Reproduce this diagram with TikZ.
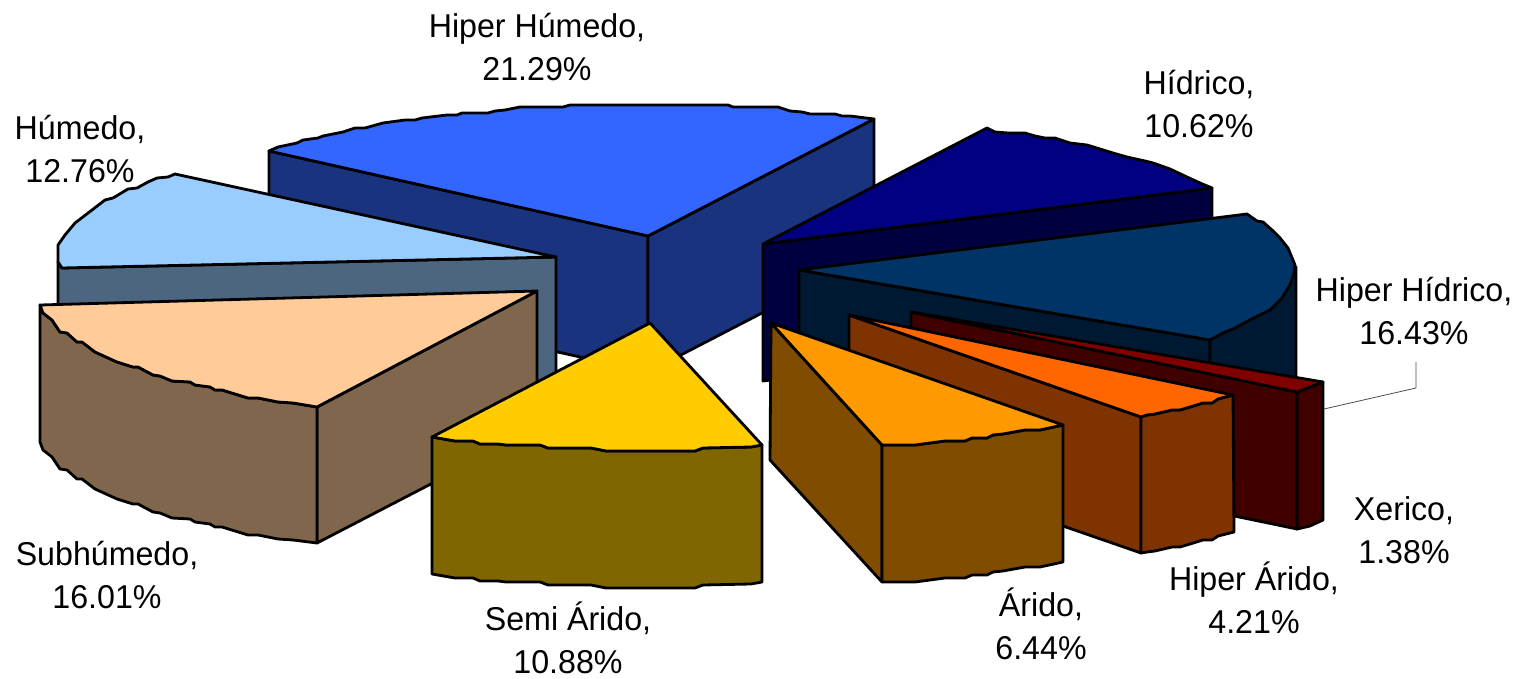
\documentclass[tikz,border=0pt]{standalone}
\usepackage{fontspec}
\setmainfont[FakeStretch=0.975]{Liberation Sans}
\definecolor{hhT}{HTML}{3366FF}\definecolor{hhW}{HTML}{19337F}
\definecolor{hiT}{HTML}{000080}\definecolor{hiW}{HTML}{000040}
\definecolor{hdT}{HTML}{003366}\definecolor{hdW}{HTML}{001933}
\definecolor{xeT}{HTML}{800000}\definecolor{xeW}{HTML}{400000}
\definecolor{haT}{HTML}{FF6600}\definecolor{haW}{HTML}{7F3300}
\definecolor{arT}{HTML}{FF9900}\definecolor{arW}{HTML}{7F4C00}
\definecolor{saT}{HTML}{FFCC00}\definecolor{saW}{HTML}{7F6600}
\definecolor{suT}{HTML}{FFCC99}\definecolor{suW}{HTML}{7F664C}
\definecolor{huT}{HTML}{99CCFF}\definecolor{huW}{HTML}{4C667F}
\tikzset{
  face/.style={draw=black,line width=1.4pt,line join=round},
  lab/.style={align=center,inner sep=0pt,font=\fontsize{16.5pt}{21.6pt}\selectfont,text=black},
  leader/.style={draw=black!70,line width=0.4pt}
}
\begin{document}
\begin{tikzpicture}[x=0.5pt,y=-0.5pt]
\useasboundingbox (0,0) rectangle (1524,679);
% Hiper Humedo
\path[face,fill=hhW] (269,151) -- (648,236) -- (648,372) -- (269,288) -- cycle;
\path[face,fill=hhW] (648,236) -- (874,119) -- (874,255) -- (648,372) -- cycle;
\path[face,fill=hhT] (648,236) -- (269,151) -- (278,147) -- (297,143) -- (303,140) -- (318,138) -- (323,136) -- (343,132) -- (355,128) -- (365,128) -- (383,123) -- (405,120) -- (415,120) -- (422,118) -- (447,115) -- (457,115) -- (462,113) -- (488,113) -- (495,111) -- (505,110) -- (520,107) -- (563,107) -- (570,105) -- (728,105) -- (733,107) -- (778,107) -- (790,111) -- (802,112) -- (810,114) -- (835,114) -- (842,116) -- (850,116) -- (874,119) -- cycle;
% Hidrico
\path[face,fill=hiW] (763,244) -- (1212,188) -- (1212,325) -- (763,381) -- cycle;
\path[face,fill=hiT] (763,244) -- (987,128) -- (995,132) -- (1008,133) -- (1025,133) -- (1035,136) -- (1045,138) -- (1055,138) -- (1070,143) -- (1087,145) -- (1100,149) -- (1113,153) -- (1127,157) -- (1145,161) -- (1153,163) -- (1170,169) -- (1187,177) -- (1200,183) -- (1212,188) -- cycle;
% Hiper Hidrico
\path[face,fill=hdW] (799,270) -- (1210,340) -- (1210,477) -- (799,407) -- cycle;
\path[face,fill=hdW] (1210,340) -- (1296,267) -- (1296,404) -- (1210,477) -- cycle;
\path[face,fill=hdT] (799,270) -- (1247,214) -- (1257,221) -- (1263,222) -- (1272,230) -- (1280,238) -- (1288,248) -- (1295,265) -- (1294,273) -- (1290,285) -- (1282,298) -- (1270,310) -- (1250,320) -- (1233,329) -- (1225,332) -- (1210,340) -- cycle;
% Xerico
\path[face,fill=xeW] (911,312) -- (1297,392) -- (1297,529) -- (911,449) -- cycle;
\path[face,fill=xeW] (1297,392) -- (1323,382) -- (1323,520) -- (1310,526) -- (1297,529) -- cycle;
\path[face,fill=xeT] (911,312) -- (1323,382) -- (1297,392) -- cycle;
% Hiper Arido
\path[face,fill=haW] (849,315) -- (1141,417) -- (1141,553) -- (849,452) -- cycle;
\path[face,fill=haW] (1141,417) -- (1147,415) -- (1155,414) -- (1172,410) -- (1180,410) -- (1190,407) -- (1203,403) -- (1212,403) -- (1218,399) -- (1233,395) -- (1234,532) -- (1218,536) -- (1212,540) -- (1203,540) -- (1190,544) -- (1180,547) -- (1172,547) -- (1155,551) -- (1147,552) -- (1141,553) -- cycle;
\path[face,fill=haT] (849,315) -- (1233,395) -- (1218,399) -- (1212,403) -- (1203,403) -- (1190,407) -- (1180,410) -- (1172,410) -- (1155,414) -- (1147,415) -- (1141,417) -- cycle;
% Arido
\path[face,fill=arW] (771,323) -- (882,445) -- (882,582) -- (770,460) -- cycle;
\path[face,fill=arW] (882,445) -- (915,445) -- (945,441) -- (965,441) -- (972,438) -- (987,438) -- (993,435) -- (1003,434) -- (1025,430) -- (1040,430) -- (1063,425) -- (1063,562) -- (1040,567) -- (1025,567) -- (1003,571) -- (993,572) -- (987,575) -- (972,575) -- (965,578) -- (945,578) -- (915,582) -- (882,582) -- cycle;
\path[face,fill=arT] (771,323) -- (1063,425) -- (1040,430) -- (1025,430) -- (1003,434) -- (993,435) -- (987,438) -- (972,438) -- (965,441) -- (945,441) -- (915,445) -- (882,445) -- cycle;
% Humedo
\path[face,fill=huW] (58,262) -- (62,268) -- (556,257) -- (556,394) -- (58,405) -- cycle;
\path[face,fill=huT] (175,174) -- (556,257) -- (62,268) -- (58,262) -- (58,245) -- (65,235) -- (75,223) -- (92,210) -- (105,200) -- (113,198) -- (128,189) -- (137,188) -- (148,182) -- (157,178) -- (168,177) -- cycle;
% Subhumedo
\path[face,fill=suW] (537,291) -- (537,429) -- (317,543) -- (317,407) -- cycle;
\path[face,fill=suW] (40,305) -- (43,313) -- (52,320) -- (60,332) -- (67,333) -- (77,342) -- (82,342) -- (95,352) -- (117,362) -- (133,367) -- (138,367) -- (153,375) -- (160,376) -- (172,381) -- (190,382) -- (195,385) -- (210,387) -- (215,390) -- (222,390) -- (248,398) -- (258,398) -- (278,402) -- (293,403) -- (317,407) -- (317,543) -- (293,540) -- (278,539) -- (258,535) -- (248,535) -- (222,527) -- (215,527) -- (210,524) -- (195,522) -- (190,519) -- (172,518) -- (160,513) -- (153,512) -- (138,504) -- (133,504) -- (117,499) -- (95,489) -- (82,479) -- (77,479) -- (67,470) -- (60,469) -- (52,457) -- (43,450) -- (40,442) -- cycle;
\path[face,fill=suT] (40,305) -- (537,291) -- (317,407) -- (293,403) -- (278,402) -- (258,398) -- (248,398) -- (222,390) -- (215,390) -- (210,387) -- (195,385) -- (190,382) -- (172,381) -- (160,376) -- (153,375) -- (138,367) -- (133,367) -- (117,362) -- (95,352) -- (82,342) -- (77,342) -- (67,333) -- (60,332) -- (52,320) -- (43,313) -- cycle;
% Semi Arido
\path[face,fill=saW] (432,437) -- (455,441) -- (473,441) -- (480,444) -- (498,444) -- (506,445) -- (540,445) -- (548,448) -- (591,448) -- (606,451) -- (695,451) -- (703,448) -- (751,447) -- (762,445) -- (762,582) -- (751,584) -- (703,585) -- (695,588) -- (606,588) -- (591,585) -- (548,585) -- (540,582) -- (506,582) -- (498,581) -- (480,581) -- (473,578) -- (455,578) -- (432,574) -- cycle;
\path[face,fill=saT] (650,323) -- (762,445) -- (751,447) -- (703,448) -- (695,451) -- (606,451) -- (591,448) -- (548,448) -- (540,445) -- (506,445) -- (498,444) -- (480,444) -- (473,441) -- (455,441) -- (432,437) -- cycle;
% Labels
\node[lab] (hhu) at (537,47) {Hiper Húmedo,\\21.29\%};
\node[lab] (hid) at (1199,104) {Hídrico,\\10.62\%};
\node[lab] (hum) at (80,149) {Húmedo,\\12.76\%};
\node[lab] (hhi) at (1414,311) {Hiper Hídrico,\\16.43\%};
\node[lab] (xer) at (1404,530) {Xerico,\\1.38\%};
\node[lab] (har) at (1254,598) {Hiper Árido,\\4.21\%};
\node[lab] (ari) at (1041,624) {Árido,\\6.44\%};
\node[lab] (sar) at (568,638) {Semi Árido,\\10.88\%};
\node[lab] (sub) at (107,575) {Subhúmedo,\\16.01\%};
\coordinate (bend) at (1416,388);
\coordinate (tip) at (1324,409);
\draw[leader] (1416,362) -- (bend) -- (tip);
\end{tikzpicture}
\end{document}
